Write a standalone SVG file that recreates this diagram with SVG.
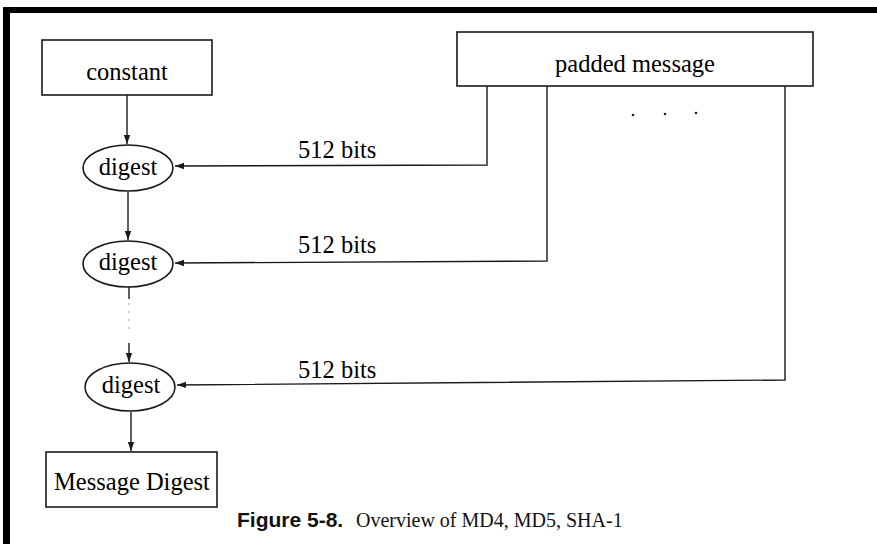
<svg xmlns="http://www.w3.org/2000/svg" width="877" height="544" viewBox="0 0 877 544">
<style>
.box{fill:#fff;stroke:#1a1a1a;stroke-width:1.6}
.lbl{font-family:"Liberation Serif","Times New Roman",serif;font-size:24.5px;fill:#000}
.ln{fill:none;stroke:#1a1a1a;stroke-width:1.4}
.cap{font-family:"Liberation Sans",Arial,sans-serif;font-weight:bold;font-size:21px;fill:#111}
.capt{font-family:"Liberation Serif","Times New Roman",serif;font-size:20px;fill:#111}
</style>
<defs>
<marker id="ah" markerWidth="10" markerHeight="8" refX="9" refY="4" orient="auto" markerUnits="userSpaceOnUse">
<path d="M0,0.8 L9,4 L0,7.2 Z" fill="#1a1a1a"/>
</marker>
</defs>
<rect x="0" y="0" width="877" height="544" fill="#fff"/>
<g id="frame">
<rect x="3" y="7" width="874" height="6" fill="#000"/>
<rect x="3" y="7" width="7" height="537" fill="#000"/>
</g>
<g id="connectors">
<line class="ln" x1="127" y1="95" x2="127" y2="144" marker-end="url(#ah)"/>
<line class="ln" x1="128" y1="192" x2="128" y2="240" marker-end="url(#ah)"/>
<line class="ln" x1="129" y1="287" x2="129" y2="299"/>
<line x1="129" y1="303" x2="129" y2="334" stroke="#bbb" stroke-width="1.4" stroke-dasharray="2,6"/>
<line class="ln" x1="129" y1="343" x2="129" y2="362" marker-end="url(#ah)"/>
<line class="ln" x1="131" y1="412" x2="131" y2="451" marker-end="url(#ah)"/>
<polyline class="ln" points="487,86 487,165 175,166" marker-end="url(#ah)"/>
<polyline class="ln" points="547,86 547,261 175,263" marker-end="url(#ah)"/>
<polyline class="ln" points="785,84 785,380 177,385" marker-end="url(#ah)"/>
<text class="lbl" x="298" y="158">512 bits</text>
<text class="lbl" x="298" y="253">512 bits</text>
<text class="lbl" x="298" y="378">512 bits</text>
</g>
<g id="constant">
<rect class="box" x="42" y="40" width="170" height="55"/>
<text class="lbl" x="127" y="80" text-anchor="middle">constant</text>
</g>
<g id="padded-message">
<rect class="box" x="457" y="32" width="356" height="54"/>
<text class="lbl" x="635" y="72" text-anchor="middle">padded message</text>
</g>
<g id="dots" fill="#222">
<circle cx="633" cy="115" r="1.3"/>
<circle cx="665" cy="114" r="1.3"/>
<circle cx="696" cy="113" r="1.3"/>
</g>
<g id="digest1">
<ellipse class="box" cx="128" cy="168" rx="45" ry="23"/>
<text class="lbl" x="128" y="175" text-anchor="middle">digest</text>
</g>
<g id="digest2">
<ellipse class="box" cx="128" cy="264" rx="45" ry="23"/>
<text class="lbl" x="128" y="270" text-anchor="middle">digest</text>
</g>
<g id="digest3">
<ellipse class="box" cx="130" cy="387" rx="45" ry="24"/>
<text class="lbl" x="131" y="393" text-anchor="middle">digest</text>
</g>
<g id="message-digest">
<rect class="box" x="46" y="452" width="171" height="55"/>
<text class="lbl" x="132" y="490" text-anchor="middle">Message Digest</text>
</g>
<g id="caption">
<text class="cap" x="237" y="527">Figure 5-8.</text>
<text class="capt" x="356" y="527">Overview of MD4, MD5, SHA-1</text>
</g>
</svg>
